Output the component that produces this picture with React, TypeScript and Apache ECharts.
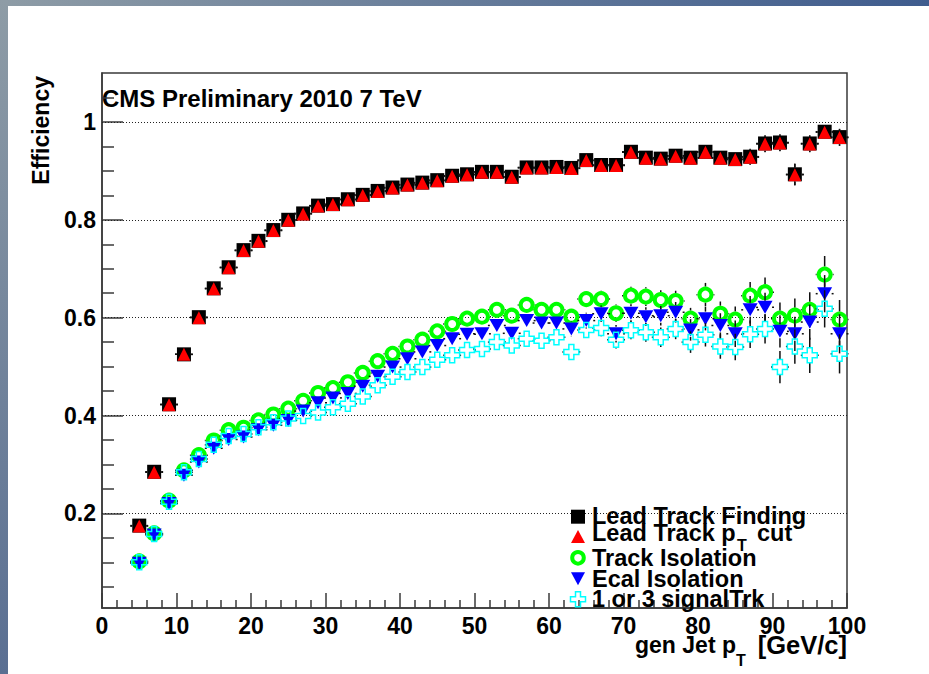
import React, { useEffect, useRef } from "react";
import * as echarts from "echarts";

// generated jet pT bin centres [GeV/c]
const ptBins = [
  5, 7, 9, 11, 13, 15, 17, 19, 21, 23, 25, 27, 29, 31, 33, 35, 37, 39, 41, 43, 45, 47, 49, 51,
  53, 55, 57, 59, 61, 63, 65, 67, 69, 71, 73, 75, 77, 79, 81, 83, 85, 87, 89, 91, 93, 95, 97, 99,
];

const leadTrackFinding = [
  0.175, 0.285, 0.423, 0.525, 0.601, 0.66, 0.703, 0.738, 0.757, 0.779, 0.8, 0.813, 0.829, 0.832,
  0.842, 0.851, 0.859, 0.866, 0.872, 0.876, 0.881, 0.89, 0.893, 0.898, 0.898, 0.888, 0.907, 0.907,
  0.908, 0.906, 0.922, 0.912, 0.912, 0.939, 0.927, 0.925, 0.931, 0.927, 0.939, 0.927, 0.924, 0.929,
  0.956, 0.958, 0.893, 0.956, 0.98, 0.969,
];

const leadTrackPtCut = [
  0.174, 0.284, 0.422, 0.525, 0.6, 0.659, 0.702, 0.737, 0.756, 0.778, 0.799, 0.812, 0.828, 0.831,
  0.841, 0.85, 0.858, 0.865, 0.871, 0.875, 0.88, 0.889, 0.892, 0.897, 0.897, 0.887, 0.906, 0.906,
  0.907, 0.905, 0.921, 0.911, 0.911, 0.938, 0.926, 0.924, 0.93, 0.926, 0.938, 0.926, 0.923, 0.928,
  0.955, 0.957, 0.892, 0.955, 0.979, 0.968,
];

const trackIsolation = [
  0.102, 0.159, 0.226, 0.288, 0.319, 0.349, 0.37, 0.375, 0.39, 0.402, 0.414, 0.43, 0.446, 0.456,
  0.468, 0.487, 0.511, 0.526, 0.541, 0.555, 0.572, 0.587, 0.598, 0.602, 0.616, 0.604, 0.626, 0.616,
  0.616, 0.602, 0.638, 0.638, 0.609, 0.645, 0.643, 0.636, 0.634, 0.598, 0.647, 0.608, 0.596, 0.645,
  0.652, 0.598, 0.604, 0.616, 0.688, 0.596,
];

const ecalIsolation = [
  0.098, 0.156, 0.22, 0.278, 0.305, 0.333, 0.351, 0.356, 0.371, 0.38, 0.39, 0.409, 0.426, 0.436,
  0.445, 0.46, 0.48, 0.499, 0.516, 0.53, 0.543, 0.557, 0.566, 0.567, 0.584, 0.568, 0.594, 0.589,
  0.589, 0.577, 0.594, 0.608, 0.567, 0.609, 0.602, 0.604, 0.611, 0.575, 0.598, 0.584, 0.567, 0.616,
  0.621, 0.572, 0.567, 0.591, 0.649, 0.567,
];

const signalTrk = [
  0.1, 0.158, 0.224, 0.284, 0.311, 0.34, 0.358, 0.362, 0.376, 0.386, 0.394, 0.399, 0.406, 0.417,
  0.424, 0.439, 0.462, 0.479, 0.489, 0.499, 0.514, 0.523, 0.534, 0.536, 0.55, 0.543, 0.557, 0.553,
  0.56, 0.53, 0.575, 0.579, 0.555, 0.574, 0.57, 0.56, 0.577, 0.55, 0.565, 0.541, 0.54, 0.566, 0.577,
  0.499, 0.541, 0.523, 0.618, 0.526,
];

// statistical uncertainties
const leadTrackErr = [
  0.004, 0.005, 0.005, 0.005, 0.005, 0.005, 0.005, 0.005, 0.005, 0.005, 0.005, 0.005, 0.005, 0.005,
  0.005, 0.005, 0.006, 0.006, 0.006, 0.006, 0.006, 0.006, 0.007, 0.007, 0.007, 0.007, 0.008, 0.008,
  0.008, 0.008, 0.009, 0.009, 0.01, 0.01, 0.01, 0.011, 0.011, 0.012, 0.012, 0.013, 0.013, 0.016,
  0.017, 0.017, 0.022, 0.017, 0.014, 0.017,
];

const isolationErr = [
  0.004, 0.004, 0.005, 0.005, 0.005, 0.005, 0.005, 0.006, 0.006, 0.006, 0.006, 0.007, 0.007, 0.007,
  0.008, 0.008, 0.008, 0.009, 0.009, 0.009, 0.01, 0.01, 0.011, 0.011, 0.012, 0.012, 0.013, 0.014,
  0.014, 0.015, 0.016, 0.017, 0.018, 0.018, 0.019, 0.02, 0.021, 0.022, 0.024, 0.025, 0.027, 0.028,
  0.03, 0.033, 0.035, 0.036, 0.038, 0.04,
];

// half bin width used for the horizontal error bars
const binHalfWidth = 1.2;

const xTickStep = 10;
const yMajorTicks = [0.2, 0.4, 0.6, 0.8, 1];
const yMinorTicks = [
  0.05, 0.1, 0.15, 0.25, 0.3, 0.35, 0.45, 0.5, 0.55, 0.65, 0.7, 0.75, 0.85, 0.9, 0.95, 1.05,
];
const Y_MIN = 0.0066;
const Y_MAX = 1.1;

const legendNames = [
  "Lead Track Finding",
  "Lead Track p",
  "Track Isolation",
  "Ecal Isolation",
  "1 or 3 signalTrk",
];

const FONT = "Liberation Sans, Arial, Helvetica, sans-serif";
const AXIS_COLOR = "#3a3a3a";

const crossPath = "path://M5,0 L10,0 L10,5 L15,5 L15,10 L10,10 L10,15 L5,15 L5,10 L0,10 L0,5 L5,5 Z";

// Error bars are drawn outside the marker only, leaving a gap of `gap` pixels around the point.
function errorBars(values: number[], errs: number[], gap: number, z: number) {
  return {
    type: "custom",
    silent: true,
    z,
    clip: false,
    data: ptBins.map((x, i) => [x, values[i], errs[i]]),
    encode: { x: 0, y: 1 },
    renderItem: (_params: any, api: any) => {
      const x = api.value(0);
      const y = api.value(1);
      const e = api.value(2);
      const c = api.coord([x, y]);
      const top = api.coord([x, y + e]);
      const bot = api.coord([x, y - e]);
      const left = api.coord([x - binHalfWidth, y]);
      const right = api.coord([x + binHalfWidth, y]);
      const style = { stroke: "#111", lineWidth: 1.5 };
      const children: any[] = [];
      if (c[1] - top[1] > gap) {
        children.push({ type: "line", shape: { x1: c[0], y1: top[1], x2: c[0], y2: c[1] - gap }, style });
      }
      if (bot[1] - c[1] > gap) {
        children.push({ type: "line", shape: { x1: c[0], y1: c[1] + gap, x2: c[0], y2: bot[1] }, style });
      }
      if (c[0] - left[0] > gap) {
        children.push({ type: "line", shape: { x1: left[0], y1: c[1], x2: c[0] - gap, y2: c[1] }, style });
      }
      if (right[0] - c[0] > gap) {
        children.push({ type: "line", shape: { x1: c[0] + gap, y1: c[1], x2: right[0], y2: c[1] }, style });
      }
      return { type: "group", children };
    },
  };
}

function points(values: number[]) {
  return ptBins.map((x, i) => [x, values[i]]);
}

export default function App() {
  const ref = useRef<HTMLDivElement>(null);

  useEffect(() => {
    if (!ref.current) return;
    const chart = echarts.init(ref.current, null, { renderer: "svg" });

    const legendX = 578;
    const legendRows = [516.7, 536.9, 557.8, 578.3, 599.2];
    const legendTextX = 592;
    const legendFont = `bold 23.5px ${FONT}`;

    const option: any = {
      animation: false,
      backgroundColor: "#ffffff",
      grid: {
        left: 102,
        top: 73,
        right: 82,
        bottom: 66,
        show: true,
        borderColor: AXIS_COLOR,
        borderWidth: 1.5,
        backgroundColor: "transparent",
      },
      xAxis: {
        type: "value",
        min: 0,
        max: 100,
        interval: xTickStep,
        axisLine: { show: true, lineStyle: { color: AXIS_COLOR, width: 1.5 } },
        axisTick: { show: true, inside: true, length: 15, lineStyle: { color: AXIS_COLOR, width: 1.5 } },
        minorTick: { show: true, splitNumber: 5, length: 8, lineStyle: { color: AXIS_COLOR, width: 1.5 } },
        axisLabel: {
          margin: 6,
          color: "#000",
          fontSize: 23,
          fontWeight: "bold",
          fontFamily: FONT,
        },
        splitLine: { show: false },
        minorSplitLine: { show: false },
      },
      yAxis: [
        {
          type: "value",
          min: Y_MIN,
          max: Y_MAX,
          position: "left",
          axisLine: { show: true, lineStyle: { color: AXIS_COLOR, width: 1.5 } },
          axisTick: {
            show: true,
            inside: true,
            length: 21,
            customValues: yMajorTicks,
            lineStyle: { color: AXIS_COLOR, width: 1.5 },
          },
          axisLabel: {
            customValues: yMajorTicks,
            margin: 6,
            color: "#000",
            fontSize: 23,
            fontWeight: "bold",
            fontFamily: FONT,
            formatter: (v: number) => String(Math.round(v * 10) / 10),
          },
          splitLine: { show: false },
        },
        {
          type: "value",
          min: Y_MIN,
          max: Y_MAX,
          position: "left",
          offset: 0,
          axisLine: { show: false },
          axisTick: {
            show: true,
            inside: true,
            length: 12,
            customValues: yMinorTicks,
            lineStyle: { color: AXIS_COLOR, width: 1.5 },
          },
          axisLabel: { show: false },
          splitLine: { show: false },
        },
      ],
      series: [
        errorBars(leadTrackFinding, leadTrackErr, 7, 2),
        {
          name: "Lead Track Finding",
          type: "scatter",
          z: 3,
          symbol: "rect",
          symbolSize: 14,
          itemStyle: { color: "#000000", opacity: 1 },
          data: points(leadTrackFinding),
          markLine: {
            silent: true,
            z: 1,
            symbol: "none",
            label: { show: false },
            lineStyle: { color: "#222", width: 1, type: [1, 2] },
            data: yMajorTicks.map((v) => ({ yAxis: v })),
          },
        },
        errorBars(leadTrackPtCut, leadTrackErr, 7, 4),
        {
          name: "Lead Track pT cut",
          type: "scatter",
          z: 5,
          symbol: "triangle",
          symbolSize: [13, 13],
          itemStyle: { color: "#ff0000", opacity: 1 },
          data: points(leadTrackPtCut),
        },
        errorBars(trackIsolation, isolationErr, 8, 6),
        {
          name: "Track Isolation",
          type: "scatter",
          z: 7,
          symbol: "circle",
          symbolSize: 12,
          itemStyle: { color: "rgba(0,0,0,0)", borderColor: "#00ff00", borderWidth: 4, opacity: 1 },
          data: points(trackIsolation),
        },
        errorBars(ecalIsolation, isolationErr, 7, 8),
        {
          name: "Ecal Isolation",
          type: "scatter",
          z: 9,
          symbol: "triangle",
          symbolRotate: 180,
          symbolSize: [15, 13],
          itemStyle: { color: "#0000ff", opacity: 1 },
          data: points(ecalIsolation),
        },
        errorBars(signalTrk, isolationErr, 7.5, 10),
        {
          name: "1 or 3 signalTrk",
          type: "scatter",
          z: 11,
          symbol: crossPath,
          symbolSize: 15,
          itemStyle: { color: "rgba(0,0,0,0)", borderColor: "#00ffff", borderWidth: 1.5, opacity: 1 },
          data: points(signalTrk),
        },
      ],
      graphic: [
        // slide frame strips
        {
          type: "rect",
          silent: true,
          shape: { x: 0, y: 0, width: 929, height: 6 },
          style: {
            fill: new echarts.graphic.LinearGradient(0, 0, 1, 0, [
              { offset: 0, color: "#8e9ca6" },
              { offset: 1, color: "#3f5c8e" },
            ]),
          },
        },
        {
          type: "rect",
          silent: true,
          shape: { x: 0, y: 0, width: 8, height: 674 },
          style: {
            fill: new echarts.graphic.LinearGradient(0, 0, 0, 1, [
              { offset: 0, color: "#8e9ca6" },
              { offset: 1, color: "#5a6f92" },
            ]),
          },
        },
        {
          type: "text",
          left: 102,
          top: 86,
          style: {
            text: "CMS Preliminary 2010 7 TeV",
            font: `bold 24px ${FONT}`,
            fill: "#000",
          },
        },
        {
          type: "text",
          x: 41,
          y: 76,
          rotation: Math.PI / 2,
          style: {
            text: "Efficiency",
            font: `bold 23px ${FONT}`,
            fill: "#000",
            align: "right",
            verticalAlign: "middle",
          },
        },
        // x axis title: gen Jet p_T [GeV/c]
        {
          type: "text",
          x: 736,
          y: 645,
          style: { text: "gen Jet p", font: `bold 23px ${FONT}`, fill: "#000", align: "right", verticalAlign: "middle" },
        },
        {
          type: "text",
          x: 736,
          y: 660,
          style: { text: "T", font: `bold 16px ${FONT}`, fill: "#000", align: "left", verticalAlign: "middle" },
        },
        {
          type: "text",
          x: 847,
          y: 645,
          style: { text: "[GeV/c]", font: `bold 25.5px ${FONT}`, fill: "#000", align: "right", verticalAlign: "middle" },
        },
        // legend
        {
          type: "rect",
          silent: true,
          shape: { x: legendX - 7, y: legendRows[0] - 7, width: 14, height: 14 },
          style: { fill: "#000" },
          z: 20,
        },
        {
          type: "polygon",
          silent: true,
          shape: {
            points: [
              [legendX, legendRows[1] - 7],
              [legendX + 7, legendRows[1] + 6],
              [legendX - 7, legendRows[1] + 6],
            ],
          },
          style: { fill: "#ff0000" },
          z: 20,
        },
        {
          type: "circle",
          silent: true,
          shape: { cx: legendX, cy: legendRows[2], r: 5.8 },
          style: { fill: "none", stroke: "#00ff00", lineWidth: 4 },
          z: 20,
        },
        {
          type: "polygon",
          silent: true,
          shape: {
            points: [
              [legendX - 7, legendRows[3] - 6],
              [legendX + 7, legendRows[3] - 6],
              [legendX, legendRows[3] + 7],
            ],
          },
          style: { fill: "#0000ff" },
          z: 20,
        },
        {
          type: "polygon",
          silent: true,
          shape: {
            points: [
              [legendX - 2.5, legendRows[4] - 7.5],
              [legendX + 2.5, legendRows[4] - 7.5],
              [legendX + 2.5, legendRows[4] - 2.5],
              [legendX + 7.5, legendRows[4] - 2.5],
              [legendX + 7.5, legendRows[4] + 2.5],
              [legendX + 2.5, legendRows[4] + 2.5],
              [legendX + 2.5, legendRows[4] + 7.5],
              [legendX - 2.5, legendRows[4] + 7.5],
              [legendX - 2.5, legendRows[4] + 2.5],
              [legendX - 7.5, legendRows[4] + 2.5],
              [legendX - 7.5, legendRows[4] - 2.5],
              [legendX - 2.5, legendRows[4] - 2.5],
            ],
          },
          style: { fill: "none", stroke: "#00ffff", lineWidth: 1.5 },
          z: 20,
        },
        {
          type: "text",
          x: legendTextX,
          y: 516,
          z: 20,
          style: { text: legendNames[0], font: legendFont, fill: "#000", verticalAlign: "middle" },
        },
        {
          type: "text",
          x: legendTextX,
          y: 533,
          z: 20,
          style: { text: legendNames[1], font: legendFont, fill: "#000", verticalAlign: "middle" },
        },
        {
          type: "text",
          x: 737,
          y: 545,
          z: 20,
          style: { text: "T", font: `bold 16px ${FONT}`, fill: "#000", verticalAlign: "middle" },
        },
        {
          type: "text",
          x: 757,
          y: 533,
          z: 20,
          style: { text: "cut", font: legendFont, fill: "#000", verticalAlign: "middle" },
        },
        {
          type: "text",
          x: legendTextX,
          y: 558,
          z: 20,
          style: { text: legendNames[2], font: legendFont, fill: "#000", verticalAlign: "middle" },
        },
        {
          type: "text",
          x: legendTextX,
          y: 579,
          z: 20,
          style: { text: legendNames[3], font: legendFont, fill: "#000", verticalAlign: "middle" },
        },
        {
          type: "text",
          x: legendTextX,
          y: 598.5,
          z: 20,
          style: { text: legendNames[4], font: legendFont, fill: "#000", verticalAlign: "middle" },
        },
      ],
    };

    chart.setOption(option);
    return () => chart.dispose();
  }, []);

  return (
    <div
      ref={ref}
      style={{ position: "fixed", left: 0, top: 0, width: 929, height: 674, background: "#fff" }}
    />
  );
}
